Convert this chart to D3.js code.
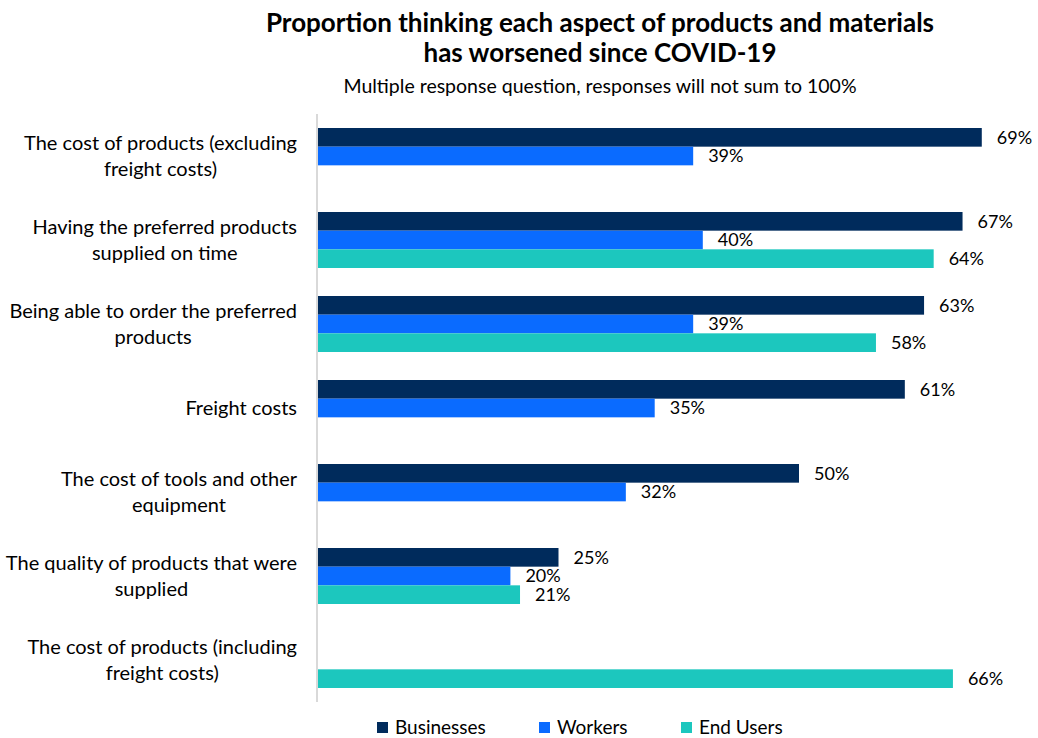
<!DOCTYPE html>
<html>
<head>
<meta charset="utf-8">
<script src="https://cdn.jsdelivr.net/npm/d3@7"></script>
<style>
  html, body { margin: 0; padding: 0; background: #fff; }
  svg { display: block; font-family: Lato, "Open Sans", sans-serif; }
</style>
</head>
<body>
<svg id="chart" width="1038" height="738"></svg>
<script>
// Survey categories (label lines) and the share of each group that said it worsened
const categories = [
  ["The cost of products (excluding", "freight costs)"],
  ["Having the preferred products", "supplied on time"],
  ["Being able to order the preferred", "products"],
  ["Freight costs"],
  ["The cost of tools and other", "equipment"],
  ["The quality of products that were", "supplied"],
  ["The cost of products (including", "freight costs)"]
];
const seriesNames = ["Businesses", "Workers", "End Users"];
const businesses = [69, 67, 63, 61, 50, 25, null];
const workers    = [39, 40, 39, 35, 32, 20, null];
const endUsers   = [null, 64, 58, null, null, 21, 66];
const colors = ["#002B5C", "#0A6BFF", "#1CC7BE"];

const titleLines = [
  "Proportion thinking each aspect of products and materials",
  "has worsened since COVID-19"
];
const subtitle = "Multiple response question, responses will not sum to 100%";

const svg = d3.select("#chart");
const x0 = 318;
const plotTop = 114, plotBottom = 702;
const labelRight = 297;

const x = d3.scaleLinear().domain([0, 100]).range([x0, x0 + 962]);
const y = d3.scaleBand()
  .domain(d3.range(categories.length))
  .range([plotTop, plotBottom])
  .paddingInner(1 / 3)
  .paddingOuter(1 / 6);
const ySub = d3.scaleBand()
  .domain(d3.range(seriesNames.length))
  .range([0, y.bandwidth()]);

const seriesValues = [businesses, workers, endUsers];

// Title and subtitle
svg.append("g").selectAll("text")
  .data(titleLines)
  .join("text")
  .attr("x", 600)
  .attr("y", (d, i) => 32 + i * 29.5)
  .attr("text-anchor", "middle")
  .attr("font-size", 26)
  .attr("font-weight", "bold")
  .attr("fill", "#000")
  .text(d => d);

svg.append("text")
  .attr("x", 600)
  .attr("y", 92.5)
  .attr("text-anchor", "middle")
  .attr("font-size", 19.5)
  .attr("fill", "#000")
  .text(subtitle);

// Bars and value labels
const groups = svg.append("g").selectAll("g")
  .data(categories.map((c, i) => i))
  .join("g")
  .attr("transform", i => `translate(0,${y(i)})`);

groups.each(function (ci) {
  const g = d3.select(this);
  const rows = seriesValues
    .map((vals, si) => ({ si, v: vals[ci] }))
    .filter(d => d.v !== null);
  g.selectAll("rect")
    .data(rows)
    .join("rect")
    .attr("x", x(0))
    .attr("y", d => ySub(d.si))
    .attr("width", d => x(d.v) - x(0))
    .attr("height", ySub.bandwidth())
    .attr("fill", d => colors[d.si]);
  g.selectAll("text")
    .data(rows)
    .join("text")
    .attr("x", d => x(d.v) + 15)
    .attr("y", d => ySub(d.si) + ySub.bandwidth() / 2)
    .attr("dy", "0.36em")
    .attr("font-size", 18)
    .attr("fill", "#000")
    .text(d => d.v + "%");
});

// Category axis: gray baseline
const axis = d3.axisLeft(y).tickSize(0).tickFormat("");
const axisG = svg.append("g")
  .attr("transform", `translate(${x0 - 1},0)`)
  .call(axis);
axisG.select(".domain")
  .attr("d", `M0,${plotTop}V${plotBottom}`)
  .attr("stroke", "#D9D9D9")
  .attr("stroke-width", 2);

// Category labels: each block sits right-aligned, its lines centred within it
const labels = svg.append("g").selectAll("text")
  .data(categories.map((c, i) => ({ lines: c, i })))
  .join("text")
  .attr("text-anchor", "middle")
  .attr("font-size", 20)
  .attr("fill", "#000");
labels.each(function (d) {
  const el = d3.select(this);
  const cy = y(d.i) + y.bandwidth() / 2;
  const n = d.lines.length;
  const spans = el.selectAll("tspan")
    .data(d.lines)
    .join("tspan")
    .attr("y", (t, k) => cy + (k - (n - 1) / 2) * 26)
    .attr("dy", "0.36em")
    .text(t => t);
  const widest = d3.max(spans.nodes(), node => node.getComputedTextLength());
  spans.attr("x", labelRight - widest / 2);
});

// Legend
const legendX = [377, 539, 681];
const legend = svg.append("g").selectAll("g")
  .data(seriesNames)
  .join("g")
  .attr("transform", (d, i) => `translate(${legendX[i]},722)`);
legend.append("rect")
  .attr("width", 11)
  .attr("height", 11)
  .attr("fill", (d, i) => colors[i]);
legend.append("text")
  .attr("x", 18)
  .attr("y", 5.5)
  .attr("dy", "0.36em")
  .attr("font-size", 19)
  .attr("fill", "#000")
  .text(d => d);
</script>
</body>
</html>
